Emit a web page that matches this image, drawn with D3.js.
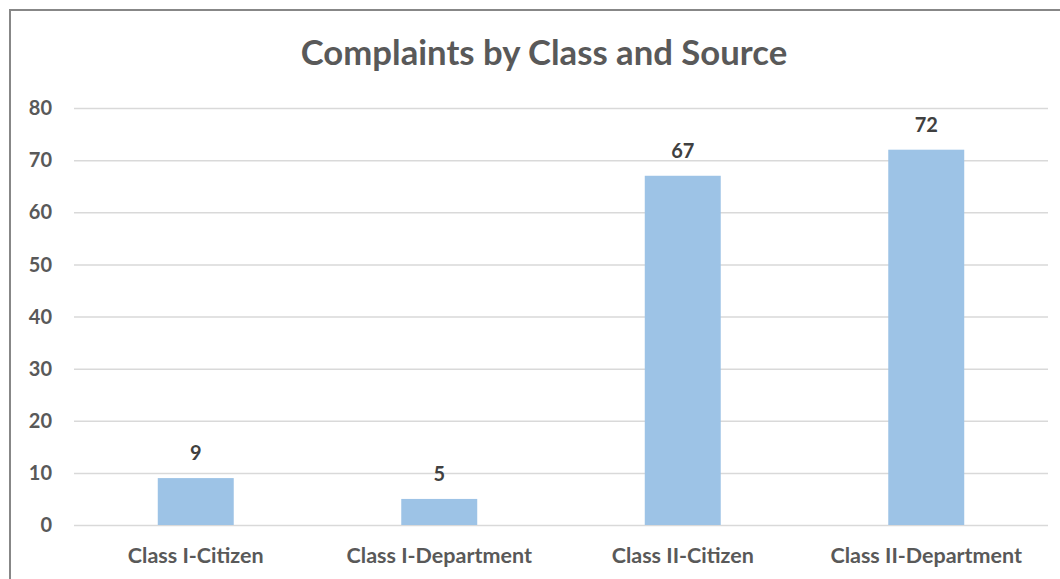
<!DOCTYPE html>
<html><head><meta charset="utf-8">
<script src="https://cdn.jsdelivr.net/npm/d3@7"></script>
<style>body{margin:0;background:#fff}svg{display:block}text{font-family:Lato,"Open Sans",sans-serif;font-weight:bold}</style>
</head><body><svg id="c" width="1060" height="579"></svg>
<script>
(function(){
const categories = ["Class I-Citizen","Class I-Department","Class II-Citizen","Class II-Department"];
const values = [9,5,67,72];
const yTicks = [0,10,20,30,40,50,60,70,80];
const title = "Complaints by Class and Source";

const svg = d3.select("#c");
const W=1060,H=579;
svg.append("rect").attr("x",10).attr("y",10).attr("width",W+20).attr("height",H+20)
  .attr("fill","#fff").attr("stroke","#878787").attr("stroke-width",2);

const pl=74,pr=1048,pt=108,pb=525;
const x=d3.scaleBand().domain(categories).range([pl,pr]).padding(0);
const y=d3.scaleLinear().domain([0,80]).range([pb,pt]);

svg.append("g").selectAll("line").data(yTicks).join("line")
  .attr("x1",pl).attr("x2",pr).attr("y1",d=>y(d)+0.5).attr("y2",d=>y(d)+0.5)
  .attr("stroke","#d9d9d9").attr("stroke-width",1.5);

svg.append("g").selectAll("text").data(yTicks).join("text")
  .attr("x",52).attr("y",d=>y(d)).attr("dy","0.36em").attr("text-anchor","end")
  .attr("fill","#595959").attr("font-size",20).text(d=>d);

const bw=x.bandwidth()*0.312;
svg.append("g").selectAll("rect").data(values).join("rect")
  .attr("x",(d,i)=>x(categories[i])+x.bandwidth()/2-bw/2).attr("width",bw)
  .attr("y",d=>y(d)).attr("height",d=>pb-y(d)).attr("fill","#9dc3e6");

svg.append("g").selectAll("text").data(values).join("text")
  .attr("x",(d,i)=>x(categories[i])+x.bandwidth()/2).attr("y",d=>y(d)-18)
  .attr("text-anchor","middle").attr("fill","#404040").attr("font-size",20).text(d=>d);

svg.append("g").selectAll("text").data(categories).join("text")
  .attr("x",d=>x(d)+x.bandwidth()/2).attr("y",563).attr("text-anchor","middle")
  .attr("fill","#595959").attr("font-size",21.5).text(d=>d);

svg.append("text").attr("x",544).attr("y",65).attr("text-anchor","middle")
  .attr("fill","#595959").attr("font-size",34.7).text(title);
})();
</script></body></html>
